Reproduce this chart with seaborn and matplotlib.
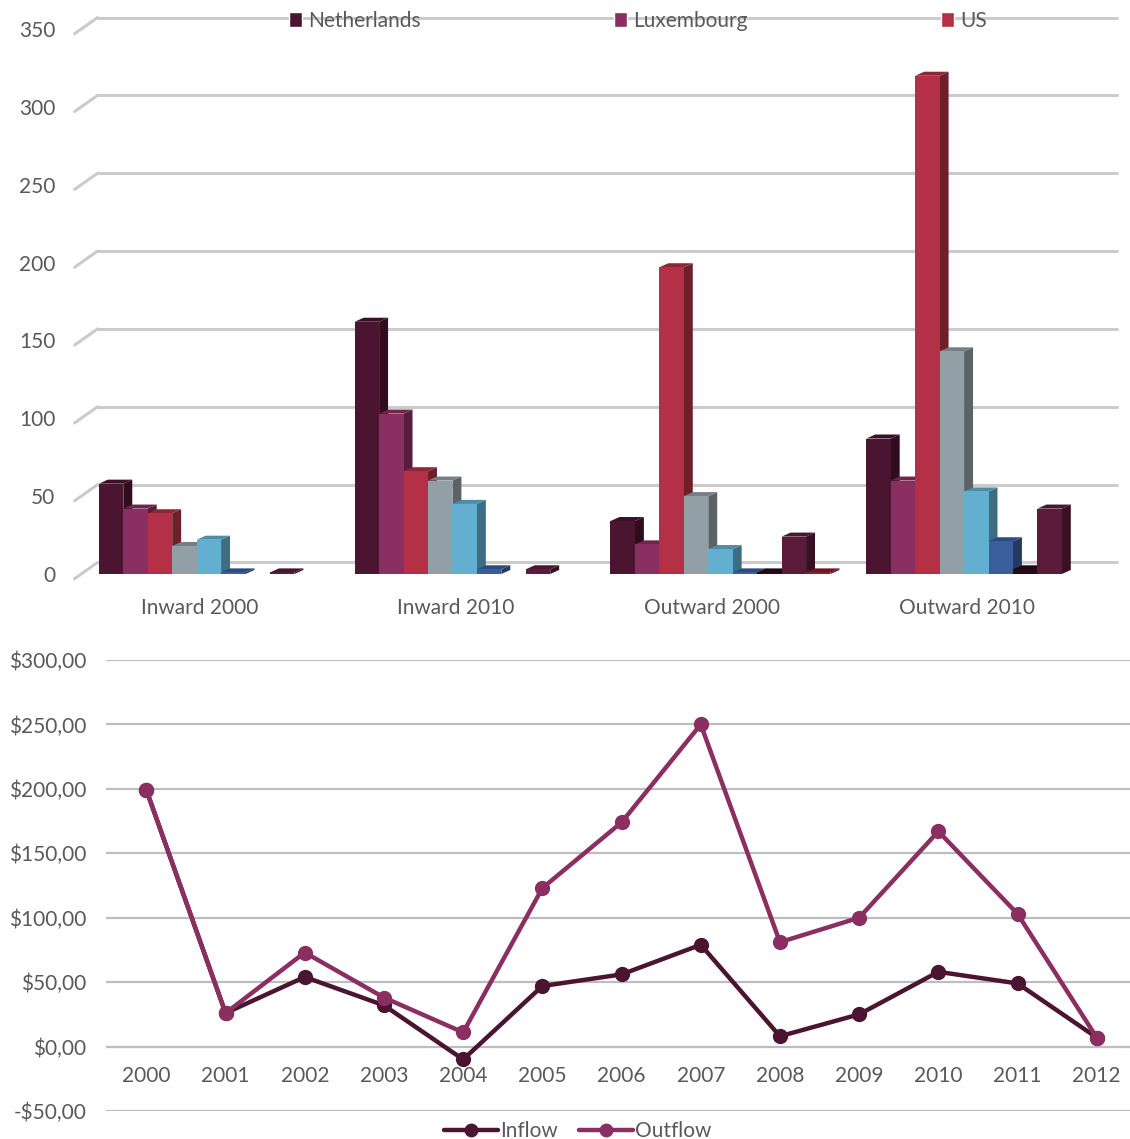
import numpy as np
import pandas as pd
import matplotlib
matplotlib.use('Agg')
import matplotlib.pyplot as plt
import seaborn as sns
from matplotlib.patches import Polygon, Patch
from matplotlib.lines import Line2D
from matplotlib.colors import to_rgb
from matplotlib.ticker import FuncFormatter

sns.set_theme(style='white')
plt.rcParams['font.family'] = ['Lato', 'DejaVu Sans']
TXT = '#595959'

# top chart: stocks by partner country
groups = ['Inward 2000', 'Inward 2010', 'Outward 2000', 'Outward 2010']
netherlands = [58, 162, 34, 87]
luxembourg = [42, 103, 19, 60]
us = [39, 66, 197, 320]
series_4 = [18, 60, 50, 143]
series_5 = [22, 45, 16, 53]
series_6 = [1, 3, 1, 21]
series_7 = [0, 0, 1, 3]
series_8 = [1, 3, 24, 42]
series_9 = [0, 0, 1, 0]
series_names = ['Netherlands', 'Luxembourg', 'US', 'Series 4', 'Series 5',
                'Series 6', 'Series 7', 'Series 8', 'Series 9']
series_colors = ['#4b1430', '#8b2e62', '#b33046', '#939fa7', '#63afcf',
                 '#3a5e9c', '#2a0a18', '#5a1c3a', '#8a1c2c']

# bottom chart: flows per year
years = list(range(2000, 2013))
inflow = [199, 26, 54, 32, -10, 47, 56, 79, 8, 25, 58, 49, 7]
outflow = [199, 26, 73, 38, 11, 123, 174, 250, 81, 100, 167, 103, 7]
flow_colors = ['#4b1430', '#8b2e62']

all_series = [netherlands, luxembourg, us, series_4, series_5,
              series_6, series_7, series_8, series_9]
bars = pd.DataFrame([
    {'group': g, 'series': name, 'value': vals[i]}
    for name, vals in zip(series_names, all_series)
    for i, g in enumerate(groups)
])
flows = pd.DataFrame({
    'year': years * 2,
    'value': inflow + outflow,
    'flow': ['Inflow'] * len(years) + ['Outflow'] * len(years),
})

W, H = 1130, 1139
fig = plt.figure(figsize=(W / 100, H / 100), dpi=100)
ax1 = fig.add_axes([72 / W, 1 - 574 / H, (1117 - 72) / W, (574 - 16.6) / H])
ax2 = fig.add_axes([106 / W, 1 - 1111 / H, (1130 - 106) / W, (1111 - 660) / H])

# ---- bar chart with fake 3D faces ----
sns.barplot(data=bars, x='group', y='value', hue='series', hue_order=series_names,
            palette=series_colors, width=0.86, saturation=1, linewidth=0,
            errorbar=None, legend=False, ax=ax1)
ax1.set_xlim(-0.5, 3.585)
ax1.set_ylim(0, 358)
ax1.set_yticks(np.arange(0, 351, 50))


def shade(c, f):
    r, g, b = to_rgb(c)
    return (r * f, g * f, b * f)


dx, dy = 0.035, 2.6
patches = sorted(ax1.patches, key=lambda p: p.get_x())
for i, p in enumerate(patches):
    # perspective: front faces sit a little right of the category centre
    p.set_x(p.get_x() + dx)
    x0, w, h = p.get_x(), p.get_width(), p.get_height()
    x1 = x0 + w
    z = 3 + i * 0.01
    p.set_zorder(z + 0.005)
    if not h or np.isnan(h):
        continue
    col = p.get_facecolor()
    ax1.add_patch(Polygon([(x1, 0), (x1 + dx, dy), (x1 + dx, h + dy), (x1, h)],
                          facecolor=shade(col, 0.62), lw=0, zorder=z))
    ax1.add_patch(Polygon([(x0, h), (x0 + dx, h + dy), (x1 + dx, h + dy), (x1, h)],
                          facecolor=shade(col, 0.8), lw=0, zorder=z))

# back wall gridlines
for v in ax1.get_yticks():
    ax1.plot([-0.40, 3.585], [v + 7.4, v + 7.4], color='#cbcbcb', lw=2.2, zorder=1, clip_on=False)
    ax1.plot([-0.49, -0.40], [v - 3, v + 7.4], color='#cbcbcb', lw=2.2, zorder=1, clip_on=False)

ax1.set_xlabel('')
ax1.set_ylabel('')
ax1.tick_params(axis='both', length=0, labelsize=15, labelcolor=TXT)
ax1.tick_params(axis='x', pad=17)
ax1.tick_params(axis='y', pad=12)
for s in ax1.spines.values():
    s.set_visible(False)

fig.legend([Patch(facecolor=c) for c in series_colors[:3]], series_names[:3],
           loc='center left', bbox_to_anchor=(289 / W, 1 - 21 / H), ncol=3,
           frameon=False, fontsize=15, labelcolor=TXT, handlelength=0.6,
           handleheight=0.7, handletextpad=0.3, columnspacing=9.3,
           borderpad=0, borderaxespad=0)

# ---- line chart ----
sns.lineplot(data=flows, x='year', y='value', hue='flow', palette=flow_colors,
             marker='o', markersize=11, markeredgewidth=0, linewidth=3.2,
             legend=False, ax=ax2)
ax2.set_xlim(1999.49, 2012.42)
ax2.set_ylim(-50, 300)
ax2.set_xticks(years)
ax2.set_yticks(np.arange(-50, 301, 50))
ax2.yaxis.set_major_formatter(FuncFormatter(
    lambda v, _: ('-' if v < 0 else '') + '$' + f'{abs(v):.2f}'.replace('.', ',')))
ax2.yaxis.grid(True, color='#bdbdbd', lw=1.6)
ax2.set_axisbelow(True)
ax2.spines['bottom'].set_position(('data', 0))
for s in ax2.spines.values():
    s.set_visible(False)
ax2.set_xlabel('')
ax2.set_ylabel('')
ax2.tick_params(axis='both', length=0, labelsize=15, labelcolor=TXT)
ax2.tick_params(axis='x', pad=14)
ax2.tick_params(axis='y', pad=14)

fig.legend([Line2D([0], [0], color=c, lw=3.2, marker='o', markersize=10, markeredgewidth=0)
            for c in flow_colors], ['Inflow', 'Outflow'],
           loc='center', bbox_to_anchor=(578 / W, 1 - 1131 / H), ncol=2,
           frameon=False, fontsize=15, labelcolor=TXT, handlelength=2.6,
           handletextpad=0.1, columnspacing=1.0, borderpad=0, borderaxespad=0)

fig.savefig('out.png', dpi=100)
